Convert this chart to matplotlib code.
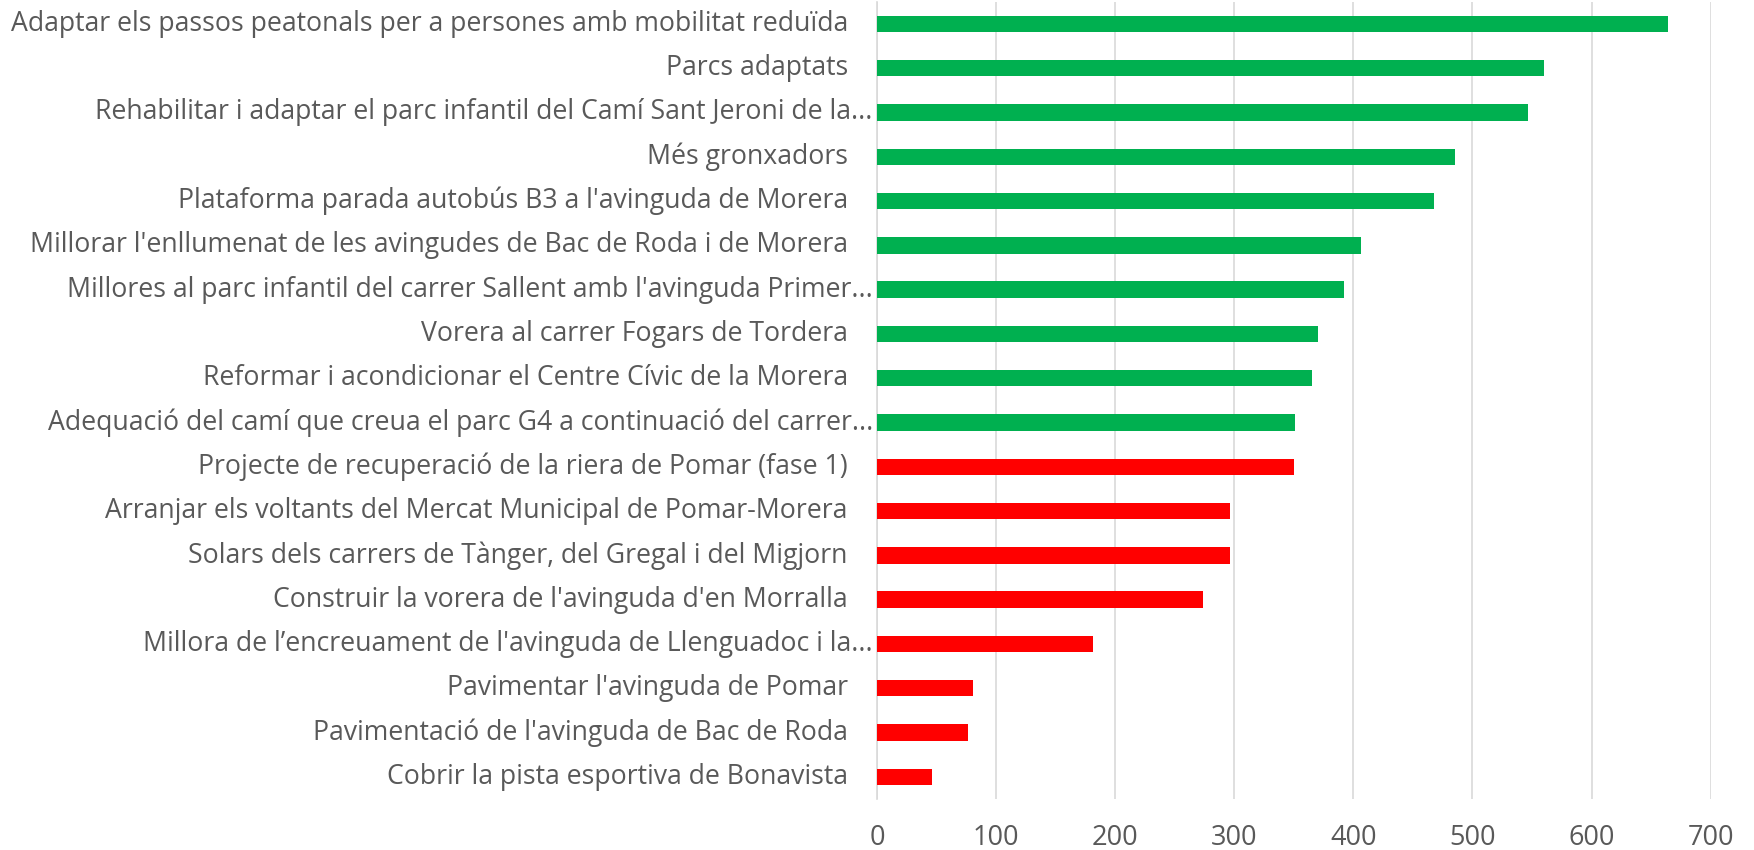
import numpy as np
import matplotlib.pyplot as plt
from matplotlib.transforms import blended_transform_factory, offset_copy

# data, top to bottom
projects = [
    "Adaptar els passos peatonals per a persones amb mobilitat reduïda",
    "Parcs adaptats",
    "Rehabilitar i adaptar el parc infantil del Camí Sant Jeroni de la...",
    "Més gronxadors",
    "Plataforma parada autobús B3 a l'avinguda de Morera",
    "Millorar l'enllumenat de les avingudes de Bac de Roda i de Morera",
    "Millores al parc infantil del carrer Sallent amb l'avinguda Primer...",
    "Vorera al carrer Fogars de Tordera",
    "Reformar i acondicionar el Centre Cívic de la Morera",
    "Adequació del camí que creua el parc G4 a continuació del carrer...",
    "Projecte de recuperació de la riera de Pomar (fase 1)",
    "Arranjar els voltants del Mercat Municipal de Pomar-Morera",
    "Solars dels carrers de Tànger, del Gregal i del Migjorn",
    "Construir la vorera de l'avinguda d'en Morralla",
    "Millora de l\u2019encreuament de l'avinguda de Llenguadoc i la...",
    "Pavimentar l'avinguda de Pomar",
    "Pavimentació de l'avinguda de Bac de Roda",
    "Cobrir la pista esportiva de Bonavista",
]
votes = [664, 560, 547, 485, 468, 406, 392, 370, 365, 351,
         350, 296, 296, 274, 181, 81, 76, 46]
selected = [True] * 10 + [False] * 8
x_ticks = [0, 100, 200, 300, 400, 500, 600, 700]

green = "#00B050"
red = "#FF0000"
grey_text = "#595959"

plt.rcParams["font.family"] = ["Open Sans", "DejaVu Sans"]

fig = plt.figure(figsize=(17.54, 8.5), dpi=100)
ax = fig.add_axes([0.5, 0.06, 0.4753, 0.938])

y = np.arange(len(projects))
colors = [green if s else red for s in selected]
ax.barh(y, votes, height=0.37, color=colors, zorder=3)

ax.set_ylim(len(projects) - 0.5, -0.5)
ax.set_xlim(0, 700)
ax.set_xticks(x_ticks)
ax.tick_params(axis="x", length=0, pad=18, labelsize=19.5, labelcolor=grey_text)
ax.set_yticks([])
ax.grid(axis="x", color="#D9D9D9", linewidth=1.2, zorder=0)
for side in ["top", "right", "bottom"]:
    ax.spines[side].set_visible(False)
ax.spines["left"].set_color("#D9D9D9")
ax.spines["left"].set_linewidth(1.2)

# category labels: truncated ones sit closer to the axis, like Excel
trans = blended_transform_factory(ax.transAxes, ax.transData)
for i, name in enumerate(projects):
    shift = -3 if name.endswith("...") else -21
    t = offset_copy(trans, fig=fig, x=shift, y=0, units="points")
    ax.text(0, i, name, transform=t, ha="right", va="center",
            fontsize=19.2, color=grey_text)

plt.savefig("out.png", dpi=100)
